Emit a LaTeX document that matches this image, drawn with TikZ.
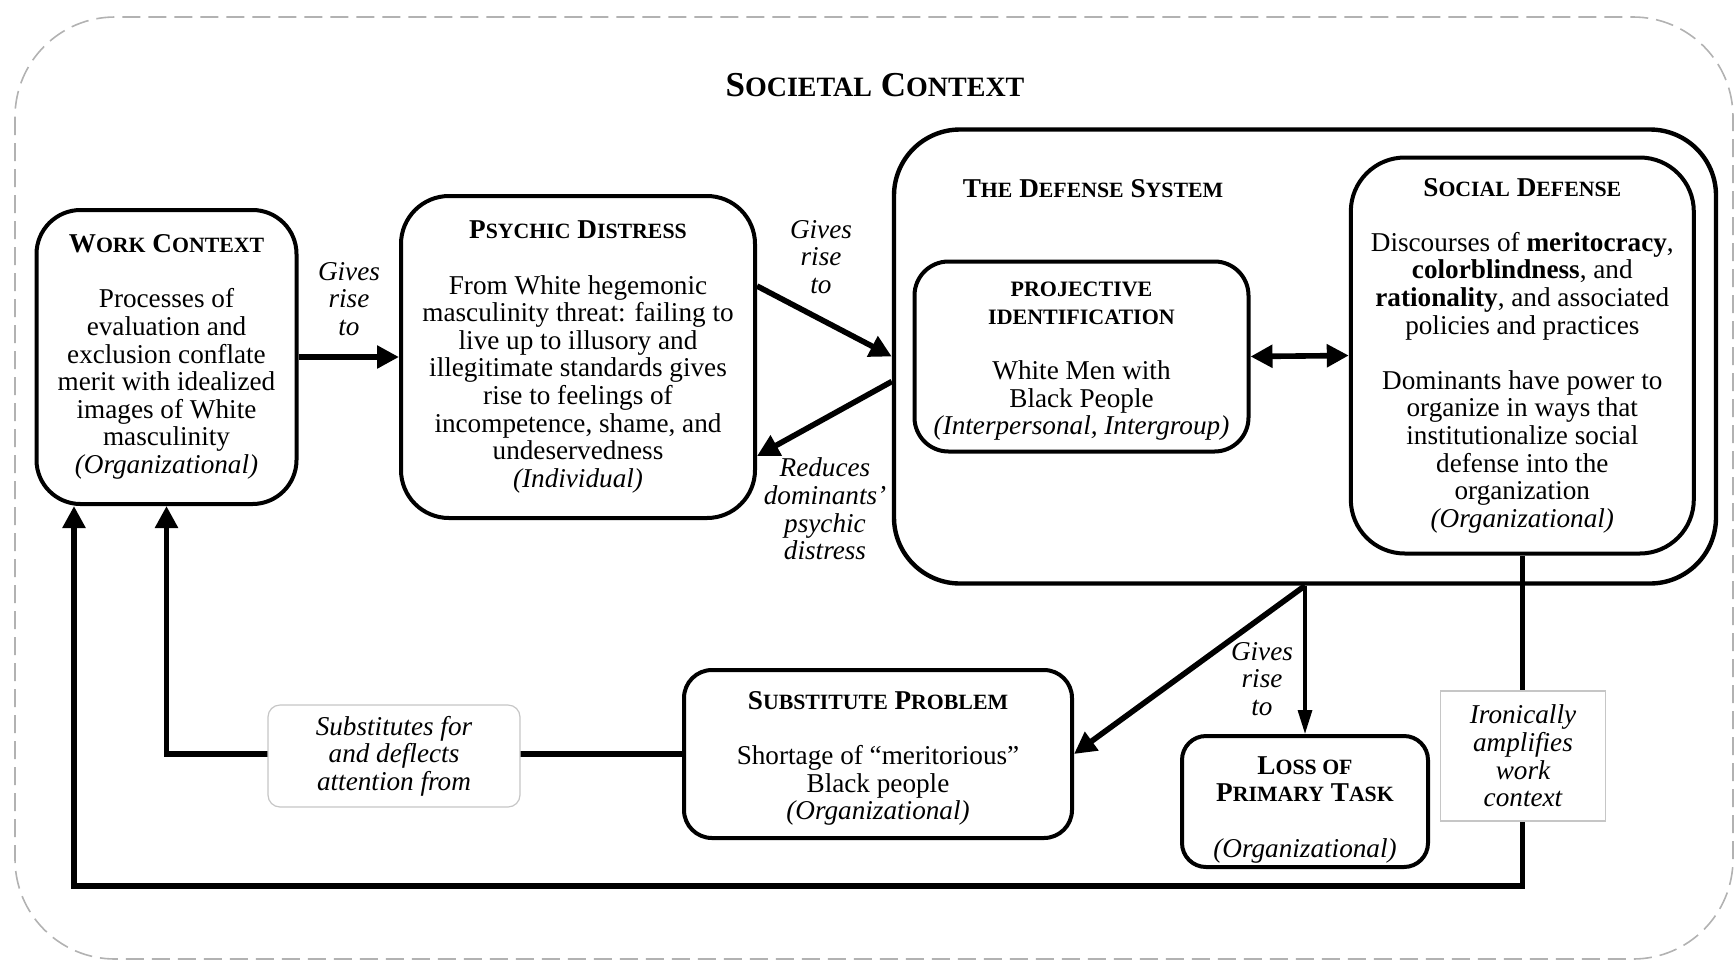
\documentclass[tikz,border=0pt]{standalone}
\usepackage{fontspec}
\setmainfont{Liberation Serif}
\usetikzlibrary{backgrounds,calc,arrows.meta}

\newcommand{\bodyfont}{\fontsize{13.6}{13.8}\selectfont}
\newcommand{\smc}[1]{{\fontsize{10.9}{13.8}\selectfont #1}}
\newcommand{\bigsmc}[1]{{\fontsize{14}{20}\selectfont #1}}
\newcommand{\pid}[1]{{\bfseries\fontsize{11}{13.8}\selectfont #1}}

\begin{document}
\begin{tikzpicture}[x=0.5pt,y=-0.5pt,thick]
    % `block' is used for the boxed parts of the model.
    % `tag' is used for the italic labels beside the arrows.
    % `note' is used for the small framed labels sitting on the lines.
    \tikzstyle{block} = [draw,line width=2pt,fill=white,align=center,inner sep=0pt,font=\bodyfont]
    \tikzstyle{tag} = [align=center,inner sep=1pt,font=\bodyfont\itshape]
    \tikzstyle{note} = [draw=gray!45,line width=0.6pt,fill=white,align=center,inner sep=2pt,font=\bodyfont\itshape]
    \tikzstyle{flow} = [line width=2.8pt,-{Triangle[length=11pt,width=11pt]}]
    %
    \useasboundingbox (0,0) rectangle (1736,965);
    \node[font=\bfseries\fontsize{17.5}{20}\selectfont] (society) at (875,85)
      {S\bigsmc{OCIETAL} C\bigsmc{ONTEXT}};
    %
    \node[block,rounded corners=22pt,minimum width=130pt,minimum height=147pt] (work) at (166.5,357)
      {\textbf{W\smc{ORK} C\smc{ONTEXT}}\\[13.8pt]
       Processes of\\ evaluation and\\ exclusion conflate\\ merit with idealized\\
       images of White\\ masculinity\\ \textit{(Organizational)}};
    \node[block,rounded corners=24pt,minimum width=177pt,minimum height=161pt] (psychic) at (578,357)
      {\textbf{P\smc{SYCHIC} D\smc{ISTRESS}}\\[13.8pt]
       From White hegemonic\\ masculinity threat: failing to\\ live up to illusory and\\
       illegitimate standards gives\\ rise to feelings of\\ incompetence, shame, and\\
       undeservedness\\ \textit{(Individual)}};
    \node[block,line width=2.2pt,rounded corners=33pt,minimum width=411pt,minimum height=227pt] (defense) at (1305,356.5) {};
    \node[font=\bodyfont\bfseries] (deftitle) at (1093,189) {T\smc{HE} D\smc{EFENSE} S\smc{YSTEM}};
    \node[block,rounded corners=17pt,minimum width=167pt,minimum height=95pt] (proj) at (1081.5,356.5)
      {\rule{0pt}{12pt}\pid{PROJECTIVE}\\ \pid{IDENTIFICATION}\\[13.8pt]
       White Men with\\ Black People\\ \textit{(Interpersonal, Intergroup)}};
    \node[block,rounded corners=27pt,minimum width=171.5pt,minimum height=198pt] (social) at (1522.3,355.5)
      {\textbf{S\smc{OCIAL} D\smc{EFENSE}}\\[13.8pt]
       Discourses of \textbf{meritocracy},\\ \textbf{colorblindness}, and\\
       \textbf{rationality}, and associated\\ policies and practices\\[13.8pt]
       Dominants have power to\\ organize in ways that\\ institutionalize social\\
       defense into the\\ organization\\ \textit{(Organizational)}};
    \node[block,rounded corners=14pt,minimum width=194pt,minimum height=84pt] (subst) at (878,754)
      {\rule{0pt}{13.5pt}\textbf{S\smc{UBSTITUTE} P\smc{ROBLEM}}\\[13.8pt]
       Shortage of “meritorious”\\ Black people\\ \textit{(Organizational)}};
    \node[block,rounded corners=12pt,minimum width=123pt,minimum height=65.5pt] (loss) at (1305,801.5)
      {\rule{0pt}{17pt}\textbf{L\smc{OSS OF}}\\ \textbf{P\smc{RIMARY} T\smc{ASK}}\\[13.8pt]
       \textit{(Organizational)}};
    %
    % Draw arrows.
    \draw[flow] (work.east) -- (psychic.west);
    \draw[flow] ($(psychic.east)+(0,-71)$) -- (defense.west);
    \draw[flow] ($(defense.west)+(0,25)$) -- ($(psychic.east)+(0,99)$);
    \draw[line width=2.8pt,{Triangle[length=11pt,width=11pt]}-{Triangle[length=11pt,width=11pt]}] (proj.east) -- (social.west);
    \draw[flow] (defense.south) -- (subst.east);
    \draw[line width=1.6pt,-{Triangle[length=12pt,width=7pt]}] (defense.south) -- (loss.north);
    \coordinate (loopend) at (74,886);
    \draw[flow] (social.south) |- (loopend) -- (loopend |- work.south);
    \draw[flow] (subst.west) -| (work.south);
    %
    % Labels on the arrows.
    \node[tag] (rise1) at (349,299) {Gives\\ rise\\ to};
    \node[tag] (rise2) at (821,257) {Gives\\ rise\\ to};
    \node[tag] (reduce) at (825,509) {Reduces\\ dominants’\\ psychic\\ distress};
    \node[tag] (rise3) at (1262,679) {Gives\\ rise\\ to};
    \node[note,rounded corners=6pt,minimum width=126pt,minimum height=51pt] (deflect) at (394,756)
      {Substitutes for\\ and deflects\\ attention from};
    \node[note,minimum width=82.5pt,minimum height=65pt] (ironic) at (1523,756)
      {Ironically\\ amplifies\\ work\\ context};
    %
    \begin{pgfonlayer}{background}
        % Draw the dashed frame of the societal context.
        \draw[gray!60,line width=0.8pt,dash pattern=on 9pt off 4pt,rounded corners=50pt]
              (15,17) rectangle (1733,959);
    \end{pgfonlayer}
\end{tikzpicture}
\end{document}
